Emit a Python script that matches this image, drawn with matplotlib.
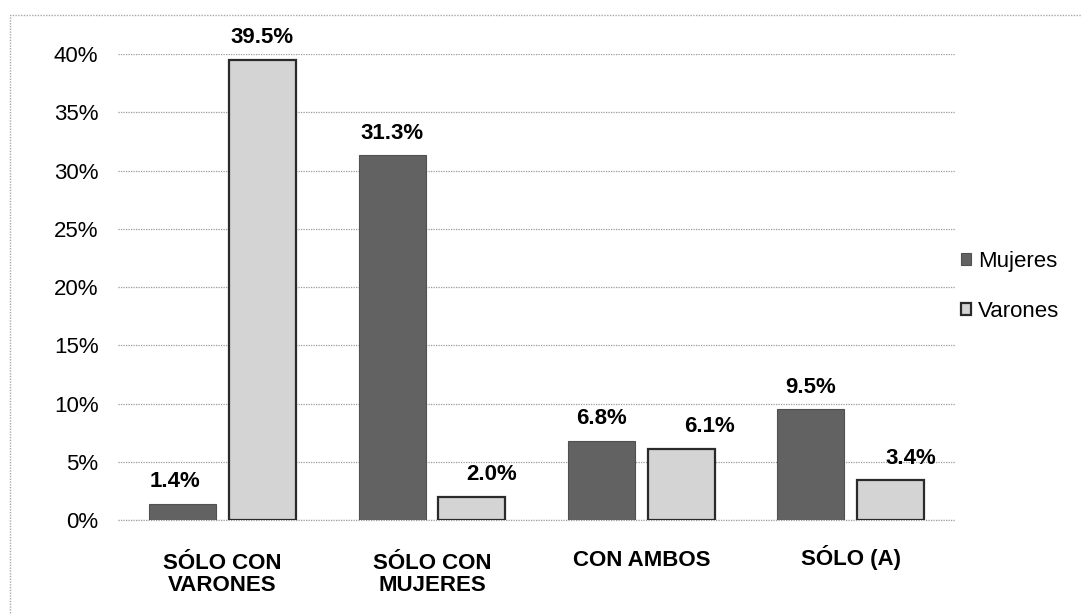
import numpy as np
import matplotlib.pyplot as plt
import matplotlib.transforms as mtransforms
from matplotlib.patches import Rectangle

plt.rcParams['font.family'] = ['Liberation Sans', 'DejaVu Sans']

categorias = ["SÓLO CON\nVARONES", "SÓLO CON\nMUJERES", "CON AMBOS", "SÓLO (A)"]
mujeres = [1.4, 31.3, 6.8, 9.5]
varones = [39.5, 2.0, 6.1, 3.4]
yticks = [0, 5, 10, 15, 20, 25, 30, 35, 40]

fig = plt.figure(figsize=(10.82, 6.14), dpi=100)
ax = fig.add_axes([0.109, 0.153, 0.774, 0.759])

x = np.arange(len(categorias))
ancho = 0.32
desp = 0.19

b1 = ax.bar(x - desp, mujeres, ancho, color="#626262", edgecolor="#505050",
            linewidth=0.8, label="Mujeres", zorder=3)
b2 = ax.bar(x + desp, varones, ancho, color="#d4d4d4", edgecolor="#2a2a2a",
            linewidth=1.6, label="Varones", zorder=3)

# etiquetas de valor (pequeño desplazamiento horizontal como en el original)
dx_muj = [-8, 0, 0, 0]
dx_var = [0, 20, 28, 20]
for barras, vals, dxs in ((b1, mujeres, dx_muj), (b2, varones, dx_var)):
    for b, v, d in zip(barras, vals, dxs):
        ax.annotate(f"{v:.1f}%", (b.get_x() + b.get_width() / 2, v),
                    xytext=(d * 0.72, 16), textcoords="offset points",
                    ha="center", va="center", fontsize=16, fontweight="bold",
                    annotation_clip=False)

ax.set_xlim(-0.5, len(categorias) - 0.5)
ax.set_ylim(0, 40)
ax.set_yticks(yticks)
ax.set_yticklabels([f"{t}%" for t in yticks], fontsize=16)
ax.set_xticks(x)
ax.set_xticklabels(categorias, fontsize=16, fontweight="bold", linespacing=1.05)
ax.tick_params(axis="y", length=0, pad=14)
ax.tick_params(axis="x", length=0, pad=24)
ax.grid(axis="y", color="#9a9a9a", linewidth=0.9, linestyle=(0, (1, 1)), zorder=0)
ax.axhline(0, color="#9a9a9a", linewidth=0.9, linestyle=(0, (1, 1)), zorder=1,
           clip_on=False)
ax.set_axisbelow(True)
for s in ax.spines.values():
    s.set_visible(False)

# las etiquetas de una sola línea quedan un poco más arriba
for lbl in ax.get_xticklabels():
    if "\n" not in lbl.get_text():
        sube = 8 if "(" in lbl.get_text() else 3
        lbl.set_transform(lbl.get_transform() +
                          mtransforms.ScaledTranslation(0, sube / 100, fig.dpi_scale_trans))

fig.legend(handles=[b1, b2], loc="center left", bbox_to_anchor=(0.87, 0.533),
           frameon=False, fontsize=16, handlelength=0.45, handleheight=0.45,
           handletextpad=0.3, labelspacing=1.3)

# borde del gráfico escaneado
fig.patches.append(Rectangle((0.009, -0.05), 1.1, 1.026, transform=fig.transFigure,
                             fill=False, edgecolor="#a8a8a8", linewidth=1.0,
                             linestyle=(0, (1, 1))))

fig.savefig("out.png", dpi=100)
